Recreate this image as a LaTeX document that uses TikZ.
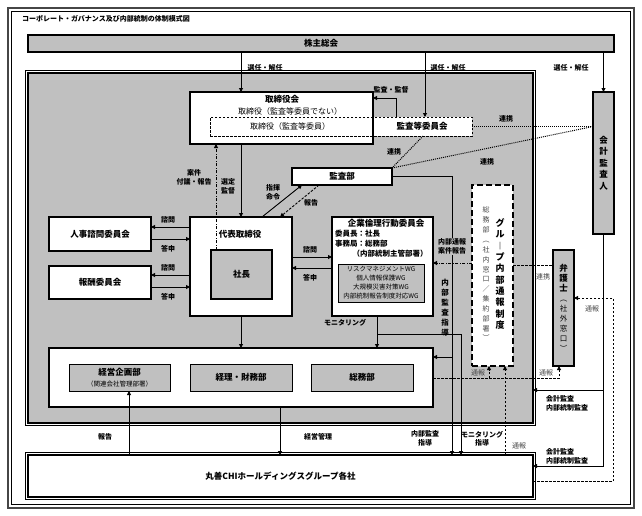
\documentclass[tikz,border=0pt]{standalone}
\usepackage{fontspec}
\setmainfont{Noto Sans CJK JP}
\usetikzlibrary{arrows.meta}
\definecolor{pgray}{RGB}{192,192,192}
\definecolor{dgray}{RGB}{70,70,70}
\begin{document}
\begin{tikzpicture}[x=1pt,y=-1pt,
  every node/.style={inner sep=0pt, outer sep=0pt},
  lbl/.style={font=\fontsize{7}{8.5}\selectfont\bfseries, align=center},
  slbl/.style={font=\fontsize{7}{8.5}\selectfont, align=center, text=dgray},
  ttl/.style={font=\fontsize{8.5}{10}\selectfont\bfseries},
  wbox/.style={draw, line width=1.5pt, fill=white},
  gbox/.style={draw, line width=1pt, fill=pgray},
  tip/.style={-{Triangle[length=4pt,width=4pt]}},
  ln/.style={line width=0.9pt},
  arr/.style={ln, tip},
  dsh/.style={line width=0.9pt, dash pattern=on 2.5pt off 1.5pt},
  dotl/.style={line width=1pt, dash pattern=on 1pt off 1pt},
  dshdot/.style={line width=0.9pt, dash pattern=on 3pt off 1.5pt on 1pt off 1.5pt},
]
\useasboundingbox (0,0) rectangle (642,515);
% outer frame
\draw[line width=2pt, draw=dgray] (8,8) rectangle (634,508);
\draw[line width=0.6pt] (11.5,11.5) rectangle (630.5,504.5);
\node[anchor=west, font=\fontsize{7}{9}\selectfont\bfseries] (title) at (22,19) {コーポレート・ガバナンス及び内部統制の体制模式図};

% shareholders
\node[draw, line width=1.8pt, fill=pgray, minimum width=586pt, minimum height=17pt, ttl] (sh) at (321,43.5) {株主総会};

% panel
\draw[line width=0.5pt] (25.5,70.5) rectangle (535.5,425.5);
\node[draw, line width=1.4pt, fill=pgray, minimum width=505pt, minimum height=350pt] (panel) at (280.5,248) {};

% board
\node[wbox, minimum width=183pt, minimum height=52pt] (board) at (281.5,118) {};
\node[draw, dsh, fill=white, minimum width=262pt, minimum height=19pt] (ac) at (341,126.5) {};
\draw[line width=1.5pt] (board.north west) rectangle (board.south east);
\node[ttl] (boardt) at (282,99) {取締役会};
\node[font=\fontsize{8}{9}\selectfont] (boardn) at (290,111) {取締役（監査等委員でない）};
\node[font=\fontsize{8}{9}\selectfont] (acd) at (290,126.5) {取締役（監査等委員）};
\node[ttl] (act) at (422,126.5) {監査等委員会};

% accounting auditor
\node[gbox, line width=1.6pt, minimum width=21pt, minimum height=142pt, align=center, font=\fontsize{8.5}{11.5}\selectfont\bfseries] (aud) at (603.5,163) {会\\計\\監\\査\\人};

% audit dept
\node[wbox, minimum width=100pt, minimum height=17pt, ttl] (kansa) at (342,176.5) {監査部};

% committees
\node[wbox, minimum width=102pt, minimum height=34pt, ttl] (jinji) at (100,234) {人事諮問委員会};
\node[wbox, minimum width=102pt, minimum height=33pt, ttl] (hoshu) at (100,282.5) {報酬委員会};

% representative director
\node[wbox, minimum width=102pt, minimum height=99pt] (rep) at (241,266.5) {};
\node[ttl] (rept) at (240,234) {代表取締役};
\node[gbox, line width=1.3pt, minimum width=61pt, minimum height=49pt, ttl] (pres) at (241.5,274.5) {社長};

% ethics committee
\node[wbox, minimum width=101pt, minimum height=99pt] (eth) at (382.5,266.5) {};
\node[ttl] (etht) at (386,223) {企業倫理行動委員会};
\node[anchor=west, font=\fontsize{7.5}{9}\selectfont\bfseries] (eth1) at (335,233.5) {委員長：社長};
\node[anchor=west, font=\fontsize{7.5}{9}\selectfont\bfseries] (eth2) at (335,243.5) {事務局：総務部};
\node[font=\fontsize{7.5}{9}\selectfont\bfseries] (eth3) at (390,253.5) {（内部統制主管部署）};
\node[draw, line width=0.8pt, fill=pgray, minimum width=86pt, minimum height=38pt, align=center, font=\fontsize{6.5}{9}\selectfont] (wg) at (381,283) {リスクマネジメントWG\\個人情報保護WG\\大規模災害対策WG\\内部統制報告制度対応WG};

% group whistleblowing
\node[draw, line width=2pt, dash pattern=on 6pt off 3pt, fill=white, minimum width=41pt, minimum height=181pt] (grp) at (492.5,275.5) {};
\node[font=\fontsize{9}{11.3}\selectfont\bfseries, align=center] (grpt) at (500,274) {グ\\ル\\︱\\プ\\内\\部\\通\\報\\制\\度};
\node[font=\fontsize{7}{9.85}\selectfont, text=dgray, align=center] (grps) at (486,274) {総\\務\\部\\︵\\社\\内\\窓\\口\\／\\集\\約\\部\\署\\︶};

% lawyer
\node[gbox, line width=1.6pt, minimum width=21pt, minimum height=116pt, align=center, font=\fontsize{7.5}{10}\selectfont] (ben) at (563.5,308) {{\bfseries\fontsize{8.5}{10}\selectfont 弁}\\{\bfseries\fontsize{8.5}{10}\selectfont 護}\\{\bfseries\fontsize{8.5}{10}\selectfont 士}\\︵\\社\\外\\窓\\口\\︶};

% management box
\node[wbox, line width=1.8pt, minimum width=384pt, minimum height=59pt] (mgmt) at (241,377.5) {};
\node[gbox, minimum width=101pt, minimum height=27pt] (plan) at (119.5,377.5) {};
\node[ttl] (plant) at (119.5,372) {経営企画部};
\node[font=\fontsize{6.5}{8}\selectfont] (plans) at (119.5,384.5) {（関連会社管理部署）};
\node[gbox, minimum width=102pt, minimum height=27pt, ttl] (fin) at (241,377.5) {経理・財務部};
\node[gbox, minimum width=102pt, minimum height=27pt, ttl] (soumu) at (362,377.5) {総務部};

% group companies
\draw[line width=0.5pt] (25.5,452.5) rectangle (535.5,499.5);
\node[draw, line width=1.4pt, fill=white, minimum width=505pt, minimum height=42pt, ttl] (co) at (280.5,476) {丸善CHIホールディングスグループ各社};

% ---- connectors ----
\draw[arr] (sh.south -| rep.north) -- (board.north -| rep.north);
\draw[arr] (sh.south -| 425,0) -- (ac.north -| 425,0);
\draw[arr] (sh.south -| aud.north) -- (aud.north);
\node[lbl] (l1) at (265,68) {選任・解任};
\node[lbl] (l2) at (448,68) {選任・解任};
\node[lbl] (l3) at (571,68) {選任・解任};

\draw[arr] (ac.north -| 396,0) -- (396,98) -- (board.east |- 0,98);
\node[lbl] (lkk) at (391,90) {監査・監督};

\draw[dotl] (ac.south -| 423,0) -- (kansa.north east);
\draw[dotl] (kansa.north east) -- (aud.west |- ac.east);
\draw[dotl] (ac.east) -- (aud.west |- ac.east);
\node[lbl] (lr1) at (394,152) {連携};
\node[lbl] (lr2) at (506,119) {連携};
\node[lbl] (lr3) at (487,162) {連携};

\draw[arr] (board.south -| rep.north) -- (rep.north);
\node[lbl] (lsel) at (228,186.5) {選定\\監督};
\draw[dshdot, tip] (pres.north -| 216,0) -- (board.south -| 216,0);
\node[lbl] (lan) at (194,177.5) {案件\\付議・報告};

\draw[arr] (rep.north -| 262,0) -- (kansa.south -| 302,0);
\node[lbl] (lshi) at (273,192.5) {指揮\\命令};
\draw[dsh, tip] (kansa.south -| 319,0) -- (rep.north -| 280,0);
\node[lbl] (lhk) at (311,203) {報告};

\draw[arr] (rep.west |- 0,227) -- (jinji.east |- 0,227);
\draw[arr] (jinji.east |- 0,239) -- (rep.west |- 0,239);
\draw[arr] (rep.west |- 0,275) -- (hoshu.east |- 0,275);
\draw[arr] (hoshu.east |- 0,287) -- (rep.west |- 0,287);
\node[lbl] (ls1) at (168,220) {諮問};
\node[lbl] (lt1) at (168,249) {答申};
\node[lbl] (ls2) at (168,267.5) {諮問};
\node[lbl] (lt2) at (168,297) {答申};

\draw[arr] (rep.east |- 0,257) -- (eth.west |- 0,257);
\draw[arr] (eth.west |- 0,268) -- (rep.east |- 0,268);
\node[lbl] (ls3) at (310,250) {諮問};
\node[lbl] (lt3) at (310,278) {答申};

\draw[arr] (kansa.east) -| (co.north -| 452,0);
\draw[arr] (452,357) -- (mgmt.east |- 0,357);
\node[font=\fontsize{7.5}{10}\selectfont\bfseries, align=center] (lna) at (445,308) {内\\部\\監\\査\\指\\導};

\draw[dshdot, tip] (grp.west |- 0,263) -- (eth.east |- 0,263);
\node[lbl, fill=pgray, inner sep=0.5pt] (lnt) at (452,246.5) {内部通報\\案件報告};

\draw[dsh] (grp.east |- 0,265) -- (ben.west |- 0,265);
\node[slbl] (lr4) at (543,277) {連携};

\draw[arr] (eth.south -| 377,0) -- (mgmt.north -| 377,0);
\draw[arr] (377,334) -| (co.north -| 461,0);
\node[lbl] (lmon) at (345,323) {モニタリング};

\draw[arr] (rep.south) -- (mgmt.north -| rep.south);

\draw[ln] (aud.south) -- (aud.south |- 0,466);
\draw[arr] (aud.south |- 0,466) -- (co.east |- 0,466);
\draw[arr] (aud.south |- 0,390) -- (panel.east |- 0,390);
\node[lbl, align=left, anchor=west] (la1) at (546,403.5) {会計監査\\内部統制監査};
\node[lbl, align=left, anchor=west] (la2) at (546,456.5) {会計監査\\内部統制監査};

\draw[dsh, tip] (co.east |- 0,481) -| (613,298) -- (ben.east |- 0,298);
\node[slbl] (ltu1) at (592,309) {通報};
\draw[dsh, tip] (mgmt.east |- 0,378) -| (ben.south -| 559,0);
\draw[dsh, tip] (489,378) -- (grp.south -| 489,0);
\draw[dsh, tip] (co.north -| 505,0) -- (grp.south -| 505,0);
\node[slbl] (ltu2) at (478,373) {通報};
\node[slbl] (ltu3) at (546,373) {通報};
\node[slbl] (ltu4) at (519,446) {通報};

\draw[arr] (co.north -| 129,0) -- (plan.south -| 129,0);
\node[lbl] (lhk2) at (105,437) {報告};
\draw[arr] (mgmt.south -| 280,0) -- (co.north -| 280,0);
\node[lbl] (lkei) at (318,437) {経営管理};
\node[lbl] (lna2) at (425,438.5) {内部監査\\指導};
\node[lbl] (lmo2) at (482,438.5) {モニタリング\\指導};
\end{tikzpicture}
\end{document}
